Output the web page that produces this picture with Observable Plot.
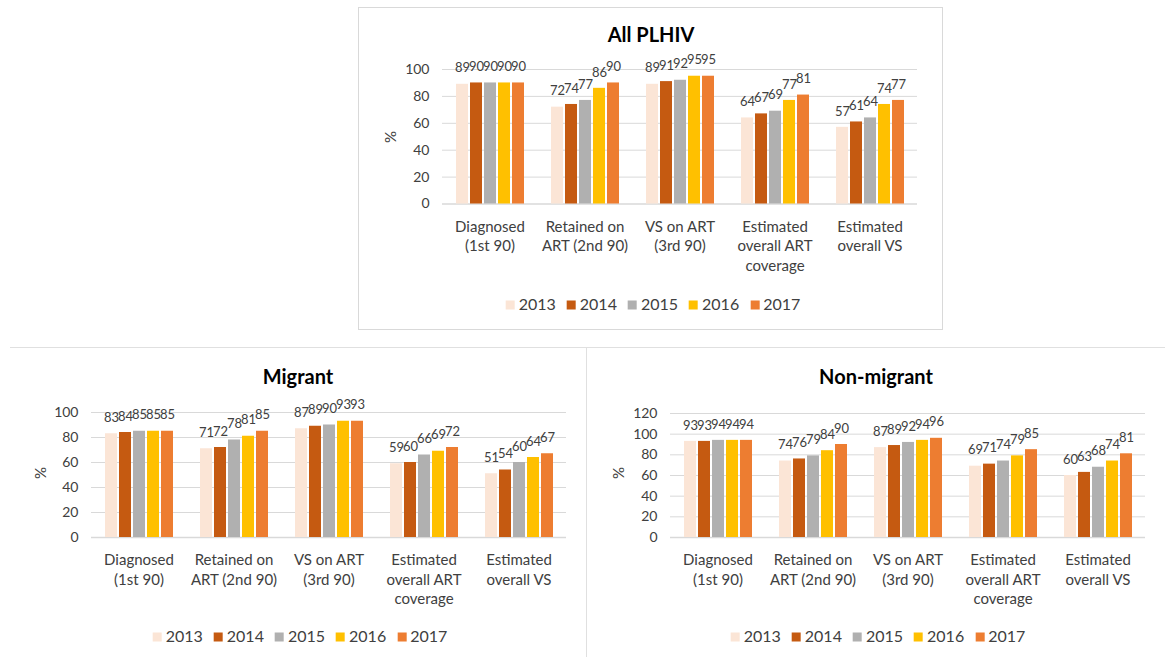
<!DOCTYPE html>
<html><head><meta charset="utf-8">
<script src="https://cdn.jsdelivr.net/npm/d3@7"></script>
<script src="https://cdn.jsdelivr.net/npm/@observablehq/plot@0.6"></script>
<style>
body{margin:0;background:#fff;font-family:Lato,"Open Sans",sans-serif;}
#root{position:relative;width:1165px;height:657px;overflow:hidden;background:#fff}
.abs{position:absolute}
.title{font-weight:700;font-size:20px;color:#000;transform:translate(-50%,-50%);white-space:nowrap}
.ylab{font-size:15px;color:#404040;transform:translate(-50%,-50%) rotate(-90deg)}
.legend{display:flex;gap:11px;transform:translate(-50%,-50%);font-size:16px;color:#404040;white-space:nowrap;align-items:center}
.legend span.sw{display:inline-block;width:9px;height:9px;margin-right:4px}
</style></head><body><div id="root"></div><script>
const categories = ["Diagnosed (1st 90)", "Retained on ART (2nd 90)", "VS on ART (3rd 90)", "Estimated overall ART coverage", "Estimated overall VS"];
const categoryLines = ["Diagnosed\n(1st 90)", "Retained on\nART (2nd 90)", "VS on ART\n(3rd 90)", "Estimated\noverall ART\ncoverage", "Estimated\noverall VS"];
const years = ["2013", "2014", "2015", "2016", "2017"];
const colors = ["#FBE5D6", "#C55A11", "#B0B0B0", "#FFC000", "#ED7D31"];
// values per category, one entry per year
const allPLHIV = [[89,90,90,90,90],[72,74,77,86,90],[89,91,92,95,95],[64,67,69,77,81],[57,61,64,74,77]];
const migrant = [[83,84,85,85,85],[71,72,78,81,85],[87,89,90,93,93],[59,60,66,69,72],[51,54,60,64,67]];
const nonMigrant = [[93,93,94,94,94],[74,76,79,84,90],[87,89,92,94,96],[69,71,74,79,85],[60,63,68,74,81]];

const root = document.getElementById("root");
function add(tag, cls, style, text) {
  const el = document.createElement(tag);
  if (cls) el.className = cls;
  Object.assign(el.style, style);
  if (text != null) el.textContent = text;
  root.appendChild(el);
  return el;
}
function chart(values, yMax, plotH) {
  const rows = [];
  categories.forEach((c, i) => years.forEach((y, j) => rows.push({cat: c, year: y, value: values[i][j]})));
  const lines = new Map(categories.map((c, i) => [c, categoryLines[i]]));
  return Plot.plot({
    width: 570, height: 19 + plotH + 80,
    marginLeft: 80, marginRight: 14, marginTop: 19, marginBottom: 80,
    style: {fontFamily: "Lato, sans-serif", fontSize: "14px", color: "#404040", background: "transparent", overflow: "visible"},
    fx: {domain: categories, padding: 0, label: null},
    x: {domain: years, paddingInner: 0.16, paddingOuter: 0.86, axis: null},
    y: {domain: [0, yMax], ticks: d3.range(0, yMax + 1, 20), tickSize: 0, tickPadding: 13, label: null},
    color: {domain: years, range: colors},
    marks: [
      Plot.gridY(d3.range(20, yMax + 1, 20), {stroke: "#d9d9d9", strokeOpacity: 1}),
      Plot.ruleY([0], {stroke: "#d9d9d9", strokeWidth: 1.5}),
      Plot.barY(rows, {fx: "cat", x: "year", y: "value", fill: "year"}),
      Plot.text(rows, {fx: "cat", x: "year", y: "value", text: d => String(d.value), dy: -16, fontSize: 13, fill: "#404040"}),
      Plot.axisFx({anchor: "bottom", tickSize: 0, tickPadding: 14, tickFormat: c => lines.get(c), fontSize: 15, lineHeight: 1.3, fill: "#404040", label: null})
    ]
  });
}
function legend(cx, cy) {
  const lg = add("div", "abs legend", {left: cx + "px", top: cy + "px"});
  years.forEach((y, i) => {
    const it = document.createElement("div");
    const sw = document.createElement("span");
    sw.className = "sw"; sw.style.background = colors[i];
    it.appendChild(sw);
    it.appendChild(document.createTextNode(y));
    lg.appendChild(it);
  });
}
function place(svg, left, top) {
  svg.style.position = "absolute";
  svg.style.left = left + "px";
  svg.style.top = top + "px";
  root.appendChild(svg);
}

// frames
add("div", "abs", {left: "358px", top: "7px", width: "585px", height: "323px", border: "1.5px solid #d9d9d9", boxSizing: "border-box"});
add("div", "abs", {left: "10px", top: "347px", width: "1155px", height: "0", borderTop: "1.5px solid #e0e0e0"});
add("div", "abs", {left: "586px", top: "347px", width: "0", height: "310px", borderLeft: "1.5px solid #e0e0e0"});

// top: All PLHIV
add("div", "abs title", {left: "651px", top: "34px"}, "All PLHIV");
place(chart(allPLHIV, 100, 134.5), 361, 50);
add("div", "abs ylab", {left: "390px", top: "137px"}, "%");
legend(653, 303);

// bottom left: Migrant
add("div", "abs title", {left: "298px", top: "376px"}, "Migrant");
place(chart(migrant, 100, 125), 10, 393);
add("div", "abs ylab", {left: "40px", top: "473px"}, "%");
legend(300, 635);

// bottom right: Non-migrant
add("div", "abs title", {left: "876px", top: "376px"}, "Non-migrant");
place(chart(nonMigrant, 120, 124), 589, 394);
add("div", "abs ylab", {left: "618px", top: "473px"}, "%");
legend(878, 635);
</script></body></html>
